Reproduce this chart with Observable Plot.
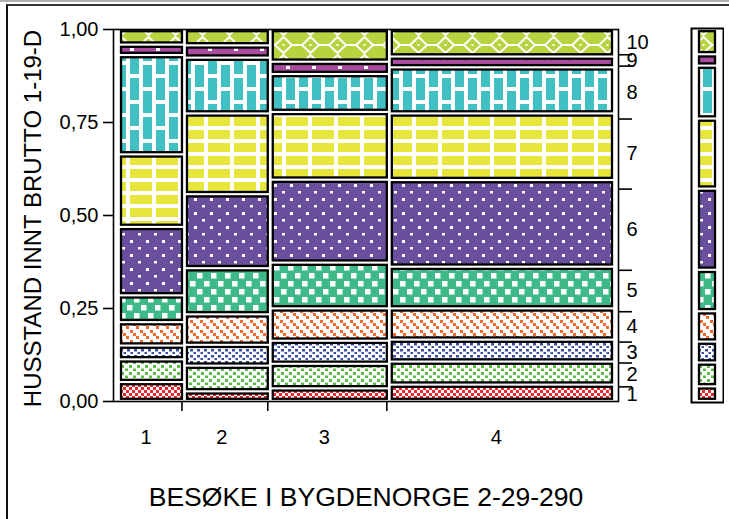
<!DOCTYPE html>
<html>
<head>
<meta charset="utf-8">
<script src="https://cdn.jsdelivr.net/npm/d3@7"></script>
<script src="https://cdn.jsdelivr.net/npm/@observablehq/plot@0.6"></script>
<style>
  html, body { margin: 0; padding: 0; background: #fff; }
  #wrap { position: relative; width: 729px; height: 519px; overflow: hidden; font-family: "Liberation Sans", Arial, sans-serif; }
  #wrap > svg.plot { position: absolute; top: 0; }
  #topline { position: absolute; left: 0; top: 0; width: 729px; height: 2px; background: #b0b0b0; }
  #border { position: absolute; left: 6px; top: 4px; width: 723px; height: 520px; border-left: 2px solid #111; border-top: 2px solid #333; box-sizing: border-box; }
</style>
</head>
<body>
<svg width="0" height="0" style="position:absolute">
  <defs>
    <pattern id="p1" width="6" height="6" patternUnits="userSpaceOnUse">
      <rect width="6" height="6" fill="#fff"/>
      <rect width="3" height="3" fill="#e8282c"/>
      <rect x="3" y="3" width="3" height="3" fill="#e8282c"/>
    </pattern>
    <pattern id="p2" width="8" height="7" patternUnits="userSpaceOnUse">
      <rect width="8" height="7" fill="#fff"/>
      <rect x="1" y="1" width="3" height="3" fill="#5cbb45"/>
      <rect x="5" y="4.5" width="3" height="2.5" fill="#5cbb45"/>
    </pattern>
    <pattern id="p3" width="7" height="6" patternUnits="userSpaceOnUse">
      <rect width="7" height="6" fill="#fff"/>
      <rect x="1" y="1" width="3" height="2.5" fill="#3c4ea0"/>
      <rect x="4.5" y="4" width="2.5" height="2" fill="#3c4ea0"/>
    </pattern>
    <pattern id="p4" width="10" height="10" patternUnits="userSpaceOnUse">
      <rect width="10" height="10" fill="#fff"/>
      <rect x="0" y="0" width="3" height="3" fill="#f26a2c"/>
      <rect x="3" y="3" width="3" height="3" fill="#f26a2c"/>
      <rect x="6" y="6" width="3" height="3" fill="#f26a2c"/>
    </pattern>
    <pattern id="p5" width="14" height="16" patternUnits="userSpaceOnUse">
      <rect width="14" height="16" fill="#3dba87"/>
      <rect x="1" y="1" width="5.5" height="5.5" fill="#fff"/>
      <rect x="8" y="9" width="5.5" height="5.5" fill="#fff"/>
    </pattern>
    <pattern id="p6" width="16" height="14" patternUnits="userSpaceOnUse">
      <rect width="16" height="14" fill="#6a4f9f"/>
      <rect x="2" y="2" width="3" height="3" fill="#fff"/>
      <rect x="10" y="9" width="3" height="2.5" fill="#fff"/>
    </pattern>
    <pattern id="p7" width="26" height="13" patternUnits="userSpaceOnUse">
      <rect width="26" height="13" fill="#fff"/>
      <rect x="0" y="0" width="22" height="9" fill="#e6e63d"/>
    </pattern>
    <pattern id="p8" width="26" height="26" patternUnits="userSpaceOnUse">
      <rect width="26" height="26" fill="#fff"/>
      <rect x="0" y="0" width="9" height="22" fill="#41c0c4"/>
      <rect x="13" y="13" width="9" height="13" fill="#41c0c4"/>
      <rect x="13" y="0" width="9" height="9" fill="#41c0c4"/>
    </pattern>
    <pattern id="p9" width="26" height="9" patternUnits="userSpaceOnUse">
      <rect width="26" height="9" fill="#a84c9f"/>
      <rect x="0" y="3" width="4" height="3" fill="#fff"/>
    </pattern>
    <pattern id="p10" width="27" height="18" patternUnits="userSpaceOnUse">
      <rect width="27" height="18" fill="#b7d33f"/>
      <path d="M13.5,1 L22,9 L13.5,17 L5,9 Z" fill="none" stroke="#fff" stroke-width="2"/>
      <path d="M0,9 H5 M22,9 H27" stroke="#fff" stroke-width="2"/>
      <rect x="12.5" y="8" width="2" height="2" fill="#fff"/>
    </pattern>
  </defs>
</svg>
<div id="wrap">
  <div id="topline"></div>
  <div id="border"></div>
</div>
<script>
// ---- data ----
const columns = ["1", "2", "3", "4"];
const columnWidths = [0.133, 0.173, 0.240, 0.454];   // share of observations per column
const levels = ["1", "2", "3", "4", "5", "6", "7", "8", "9", "10"];
const shares1 = [0.051, 0.061, 0.037, 0.063, 0.072, 0.184, 0.195, 0.267, 0.028, 0.042];
const shares2 = [0.026, 0.069, 0.056, 0.082, 0.124, 0.199, 0.217, 0.150, 0.033, 0.044];
const shares3 = [0.034, 0.066, 0.062, 0.087, 0.123, 0.223, 0.182, 0.102, 0.033, 0.088];
const shares4 = [0.044, 0.062, 0.059, 0.084, 0.112, 0.233, 0.179, 0.124, 0.029, 0.074];
const yTicks = [0, 0.25, 0.5, 0.75, 1];
const yTickLabels = ["0,00", "0,25", "0,50", "0,75", "1,00"];
const xTitle = "BESØKE I BYGDENORGE 2-29-290";
const yTitle = "HUSSTAND INNT BRUTTO 1-19-D";

// ---- build tables ----
const shares = [shares1, shares2, shares3, shares4];
const cells = [];
const colInfo = [];
let xc = 0;
columns.forEach((c, i) => {
  const w = columnWidths[i];
  let yc = 0;
  shares[i].forEach((s, j) => {
    cells.push({col: c, level: levels[j], x1: xc, x2: xc + w, y1: yc, y2: yc + s});
    yc += s;
  });
  colInfo.push({name: c, xm: xc + w / 2, x2: xc + w});
  xc += w;
});
const totalW = d3.sum(columnWidths);
const marg = [];
let mc = 0;
levels.forEach((lv, j) => {
  const s = d3.sum(columns, (c, i) => columnWidths[i] * shares[i][j]) / totalW;
  marg.push({level: lv, y1: mc, y2: mc + s, ym: mc + s / 2});
  mc += s;
});
const colBounds = colInfo.slice(0, -1).map(d => d.x2);
const margBounds = marg.slice(0, -1).map(d => d.y2);

const font = "Liberation Sans, Arial, sans-serif";
const cellMarks = (data, opts) => levels.map(lv =>
  Plot.rect(data.filter(d => d.level === lv), {
    x1: "x1", x2: "x2", y1: "y1", y2: "y2",
    fill: `url(#p${lv})`, stroke: "#000", strokeWidth: 2.3,
    insetTop: 2.2, insetBottom: 2.2, ...opts
  })
);

const main = Plot.plot({
  width: 729, height: 519,
  marginLeft: 113, marginRight: 111, marginTop: 29, marginBottom: 118,
  x: {domain: [0, 1], insetLeft: 5.5, insetRight: 3.5, axis: null},
  y: {domain: [0, 1], axis: null},
  style: {fontFamily: font, color: "#000", background: "transparent"},
  marks: [
    ...cellMarks(cells, {insetLeft: 2.5, insetRight: 2.5}),
    Plot.frame({stroke: "#000", strokeWidth: 1.6}),
    Plot.axisY(yTicks, {anchor: "left", tickSize: 10, tickPadding: 5, strokeWidth: 1.6, fontSize: 20,
      tickFormat: d => yTickLabels[yTicks.indexOf(d)], label: null}),
    Plot.axisX(colBounds, {anchor: "bottom", tickSize: 10, strokeWidth: 1.6, dx: -3, tickFormat: () => "", label: null}),
    Plot.text(colInfo, {x: "xm", text: "name", frameAnchor: "bottom", lineAnchor: "middle", textAnchor: "middle",
      dy: 36, dx: -6, fontSize: 20, fill: "#000"}),
    Plot.axisY(margBounds, {anchor: "right", tickSize: 13, strokeWidth: 1.6, tickFormat: () => "", label: null}),
    Plot.text(marg, {y: "ym", text: "level", frameAnchor: "right", lineAnchor: "middle", dx: 8, textAnchor: "start", fontSize: 20, fill: "#000"}),
    Plot.text([xTitle], {frameAnchor: "bottom", lineAnchor: "middle", textAnchor: "middle", dy: 96, fontSize: 26.5, fill: "#000"}),
    Plot.text([yTitle], {frameAnchor: "left", lineAnchor: "middle", textAnchor: "middle", rotate: -90, dx: -80, dy: 3, fontSize: 24, fill: "#000"})
  ]
});
main.classList.add("plot");
main.style.left = "0px";

const side = Plot.plot({
  width: 34, height: 519,
  marginLeft: 2, marginRight: 2, marginTop: 29, marginBottom: 118,
  x: {domain: [0, 1], axis: null},
  y: {domain: [0, 1], axis: null},
  style: {background: "transparent"},
  marks: [
    ...cellMarks(marg.map(d => ({...d, x1: 0, x2: 1})), {insetLeft: 7, insetRight: 7}),
    Plot.frame({stroke: "#000", strokeWidth: 2, inset: -1})
  ]
});
side.classList.add("plot");
side.style.left = "690px";

document.getElementById("wrap").append(main, side);
</script>
</body>
</html>
